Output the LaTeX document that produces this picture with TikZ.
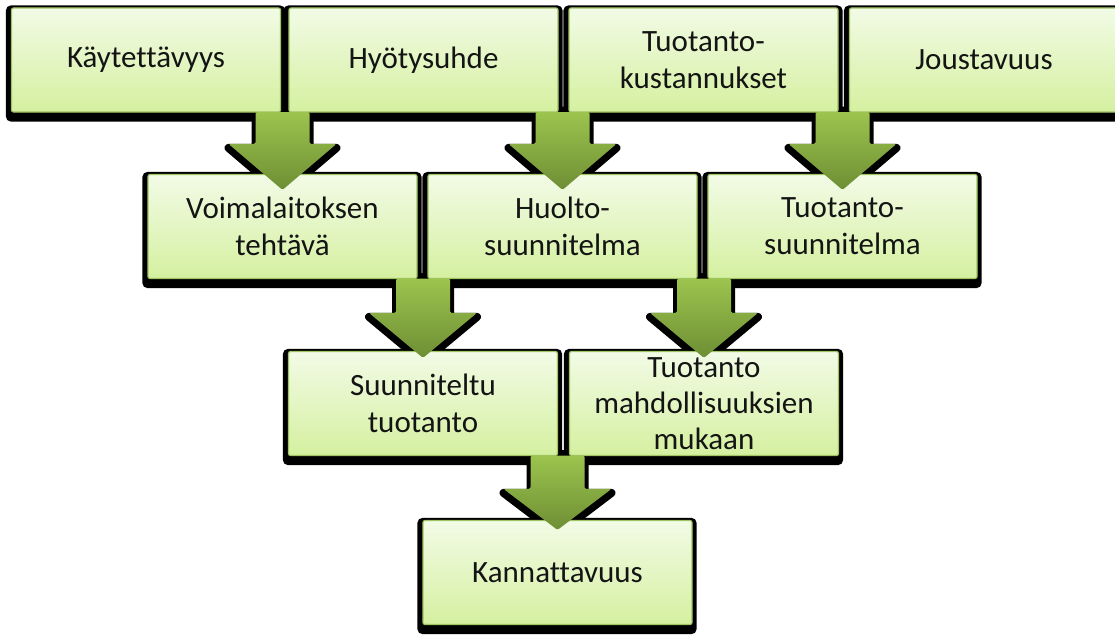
\documentclass[tikz,border=0pt]{standalone}
\usepackage{fontspec}
\setmainfont[Ligatures=NoCommon]{Carlito}
\usetikzlibrary{calc}
\pgfdeclarelayer{paper}
\pgfdeclarelayer{bg}
\pgfdeclarelayer{fg}
\pgfsetlayers{paper,bg,main,fg}
\definecolor{boxtop}{RGB}{242,251,230}
\definecolor{boxbot}{RGB}{213,240,160}
\definecolor{boxline}{RGB}{160,196,100}
\definecolor{arrtop}{RGB}{156,196,78}
\definecolor{arrbot}{RGB}{110,142,52}
\definecolor{txt}{RGB}{20,20,20}
\tikzset{
  stepbox/.style={rectangle, draw=boxline, line width=1.2pt, rounded corners=2pt,
    top color=boxtop, bottom color=boxbot, minimum width=269pt, minimum height=104pt,
    text width=262pt, align=center, inner sep=0pt, text=txt,
    font=\fontsize{31}{37}\selectfont},
  arrshadow/.style={fill=black, draw=black, line width=8pt, line join=round},
  arrfill/.style={top color=arrtop, bottom color=arrbot, draw=none}
}
% block arrow: #1 source, #2 target, #3 overlap into target, #4 head length
\newcommand\blockarrow[4]{%
  \begin{pgfonlayer}{bg}
  \path[arrshadow] let \p1=(#1.south), \p2=(#2.north) in
    (\x2-27pt,\y1+2pt) -- (\x2+27pt,\y1+2pt) -- (\x2+27pt,\y2-#3pt+#4pt-4pt) -- (\x2+54pt,\y2-#3pt+#4pt-4pt)
    -- (\x2,\y2-#3pt-4pt) -- (\x2-54pt,\y2-#3pt+#4pt-4pt) -- (\x2-27pt,\y2-#3pt+#4pt-4pt) -- cycle;
  \end{pgfonlayer}
  \begin{pgfonlayer}{fg}
  \path[arrfill, rounded corners=1.5pt] let \p1=(#1.south), \p2=(#2.north) in
    (\x2-27pt,\y1+0.6pt) -- (\x2+27pt,\y1+0.6pt) -- (\x2+27pt,\y2-#3pt+#4pt) -- (\x2+54pt,\y2-#3pt+#4pt)
    -- (\x2,\y2-#3pt) -- (\x2-54pt,\y2-#3pt+#4pt) -- (\x2-27pt,\y2-#3pt+#4pt) -- cycle;
  \end{pgfonlayer}}
\newcommand\boxshadow[1]{%
  \begin{pgfonlayer}{bg}
  \fill[black, rounded corners=5pt] ([xshift=-5pt,yshift=2pt]#1.north west) rectangle ([xshift=4pt,yshift=-9pt]#1.south east);
  \end{pgfonlayer}}
\begin{document}
\begin{tikzpicture}[x=1pt,y=-1pt]
\useasboundingbox (0,0) rectangle (1115,634);
\begin{pgfonlayer}{paper}
\fill[white] (0,0) rectangle (1115,634);
\end{pgfonlayer}
% row 1
\node[stepbox] (k1) at (146,60) {Käytettävyys};
\node[stepbox] (k2) at (423.5,60) {Hyötysuhde};
\node[stepbox] (k3) at (703.5,60) {Tuotanto-\\kustannukset};
\node[stepbox] (k4) at (984,60) {Joustavuus};
% row 2
\node[stepbox] (v1) at (282.5,226.5) {Voimalaitoksen\\tehtävä};
\node[stepbox] (v2) at (562.5,226.5) {Huolto-\\suunnitelma};
\node[stepbox] (v3) at (842.5,226.5) {Tuotanto-\\suunnitelma};
% row 3
\node[stepbox] (s1) at (423,403.5) {Suunniteltu\\tuotanto};
\node[stepbox,font=\fontsize{31}{36}\selectfont] (s2) at (704,403.5) {Tuotanto\\mahdollisuuksien\\mukaan};
% row 4
\node[stepbox] (kk) at (557.5,572.5) {Kannattavuus};
\foreach \n in {k1,k2,k3,k4,v1,v2,v3,s1,s2,kk} {\boxshadow{\n}}
% arrows
\blockarrow{k1}{v1}{16}{46}
\blockarrow{k2}{v2}{16}{46}
\blockarrow{k3}{v3}{16}{46}
\blockarrow{v1}{s1}{7}{45}
\blockarrow{v2}{s2}{7}{45}
\blockarrow{s1}{kk}{10}{41}
\end{tikzpicture}
\end{document}
